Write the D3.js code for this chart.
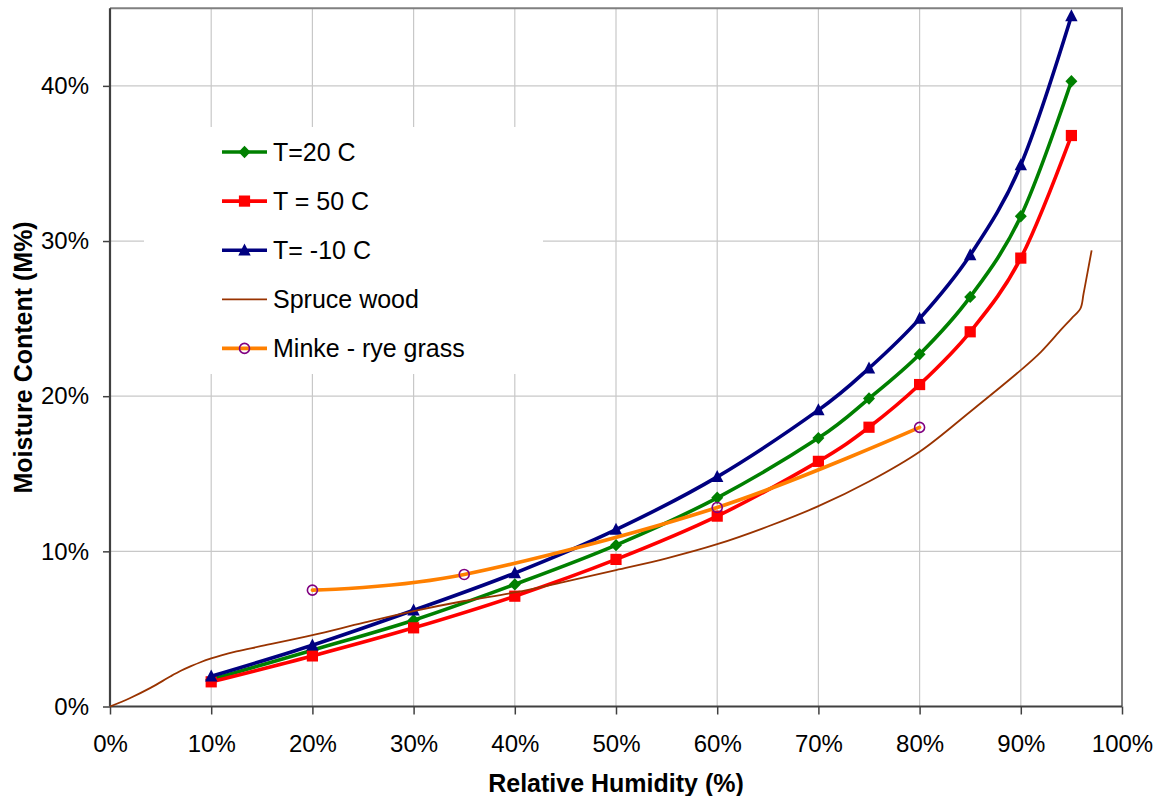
<!DOCTYPE html>
<html>
<head>
<meta charset="utf-8">
<script src="https://cdn.jsdelivr.net/npm/d3@7"></script>
<style>
  html, body { margin: 0; padding: 0; background: #fff; }
  svg { display: block; }
  text { font-family: Arial, "Liberation Sans", sans-serif; fill: #000; }
</style>
</head>
<body>
<svg id="chart" width="1160" height="796"></svg>
<script>
// ---------- data ----------
const rhPoints = [10, 20, 30, 40, 50, 60, 70, 75, 80, 85, 90, 95];
const t20 = [1.74, 3.63, 5.56, 7.87, 10.4, 13.45, 17.3, 19.85, 22.7, 26.4, 31.6, 40.3];
const t50 = [1.59, 3.26, 5.07, 7.11, 9.48, 12.27, 15.8, 18.0, 20.75, 24.15, 28.9, 36.8];
const tMinus10 = [1.95, 3.95, 6.2, 8.6, 11.4, 14.8, 19.1, 21.8, 25.0, 29.1, 34.9, 44.5];

const spruceRH = [0, 2, 4, 6, 7, 8, 9, 10, 11, 12.5, 15, 20, 25, 30, 35, 40, 45, 50, 55, 60, 65, 70, 75, 80, 85, 90, 92, 94, 95, 95.9, 96.2, 96.6, 97];
const spruceMC = [0, 0.55, 1.2, 1.95, 2.3, 2.6, 2.87, 3.1, 3.3, 3.55, 3.9, 4.6, 5.39, 6.15, 6.8, 7.35, 8.05, 8.79, 9.55, 10.46, 11.6, 12.91, 14.5, 16.42, 19.0, 21.68, 22.86, 24.3, 25.0, 25.66, 26.6, 28.0, 29.4];

const minkeRH = [20, 35, 60, 80];
const minkeMC = [7.5, 8.51, 12.83, 17.99];

const xTicks = [0, 10, 20, 30, 40, 50, 60, 70, 80, 90, 100];
const yTicks = [0, 10, 20, 30, 40];
const legendLabels = ["T=20 C", "T = 50 C", "T= -10 C", "Spruce wood", "Minke - rye grass"];

// ---------- layout ----------
const svg = d3.select("#chart");
const L = 110, R = 1122, T = 8.3, B = 706.5;
const x = d3.scaleLinear().domain([0, 100]).range([L, R]);
const y = d3.scaleLinear().domain([0, 45]).range([B, T]);

svg.append("rect").attr("width", 1160).attr("height", 796).attr("fill", "#fff");

// gridlines
const grid = svg.append("g");
grid.selectAll("line.v").data(xTicks.filter(d => d > 0 && d < 100)).join("line")
  .attr("x1", d => x(d)).attr("x2", d => x(d)).attr("y1", T).attr("y2", B)
  .attr("stroke", "#c8c8c8").attr("stroke-width", 1.2);
grid.selectAll("line.h").data(yTicks.filter(d => d > 0)).join("line")
  .attr("x1", L).attr("x2", R).attr("y1", d => y(d)).attr("y2", d => y(d))
  .attr("stroke", "#c8c8c8").attr("stroke-width", 1.2);

// plot border (top/right)
svg.append("path")
  .attr("d", `M${L},${T}H${R}V${B}`)
  .attr("fill", "none").attr("stroke", "#808080").attr("stroke-width", 2);

// axes
const fmt = d => d + "%";
const yAxis = svg.append("g").attr("transform", `translate(${L},0)`)
  .call(d3.axisLeft(y).tickValues(yTicks).tickFormat(fmt).tickSize(7).tickPadding(14));
const xAxis = svg.append("g").attr("transform", `translate(0,${B})`)
  .call(d3.axisBottom(x).tickValues(xTicks).tickFormat(fmt).tickSize(8).tickPadding(20));
[xAxis, yAxis].forEach(g => {
  g.select(".domain").attr("stroke", "#404040").attr("stroke-width", 2.2);
  g.selectAll(".tick line").attr("stroke", "#404040").attr("stroke-width", 1.5);
  g.selectAll(".tick text").attr("font-size", 24)
    .attr("font-family", 'Arial, "Liberation Sans", sans-serif').attr("fill", "#000");
});
yAxis.select(".domain").attr("d", `M0,${B}V${T}`);
xAxis.select(".domain").attr("d", `M${L},0H${R}`);

// axis titles
svg.append("text").attr("x", (L + R) / 2).attr("y", 791.5)
  .attr("text-anchor", "middle").attr("font-size", 25).attr("font-weight", "bold")
  .text("Relative Humidity (%)");
svg.append("text").attr("transform", `translate(32,${(T + B) / 2}) rotate(-90)`)
  .attr("text-anchor", "middle").attr("font-size", 25).attr("font-weight", "bold")
  .text("Moisture Content (M%)");

// ---------- series ----------
const smooth = d3.line().x(d => x(d[0])).y(d => y(d[1])).curve(d3.curveCardinal.tension(0));
const spruceLine = d3.line().x(d => x(d[0])).y(d => y(d[1])).curve(d3.curveCatmullRom.alpha(0.5));

const diamond = "M0,-6.2L6,0L0,6.2L-6,0Z";
const square = "M-5.6,-5.6H5.6V5.6H-5.6Z";
const triangle = "M0,-6.8L6.2,5.2H-6.2Z";

const series = [
  { vals: t20, color: "#008000", marker: diamond },
  { vals: t50, color: "#FF0000", marker: square },
  { vals: tMinus10, color: "#000080", marker: triangle }
];

const plot = svg.append("g");
series.forEach(s => {
  const pts = rhPoints.map((r, i) => [r, s.vals[i]]);
  plot.append("path").attr("d", smooth(pts)).attr("fill", "none")
    .attr("stroke", s.color).attr("stroke-width", 3.6).attr("stroke-linejoin", "round");
  plot.selectAll(null).data(pts).join("path")
    .attr("d", s.marker).attr("fill", s.color)
    .attr("transform", d => `translate(${x(d[0])},${y(d[1])})`);
});

// spruce wood
const sprucePts = spruceRH.map((r, i) => [r, spruceMC[i]]);
plot.append("path").attr("d", spruceLine(sprucePts)).attr("fill", "none")
  .attr("stroke", "#993300").attr("stroke-width", 1.8);

// minke
const minkePts = minkeRH.map((r, i) => [r, minkeMC[i]]);
plot.append("path").attr("d", smooth(minkePts)).attr("fill", "none")
  .attr("stroke", "#FF8000").attr("stroke-width", 3.6).attr("stroke-linecap", "round");
plot.selectAll(null).data(minkePts).join("circle")
  .attr("cx", d => x(d[0])).attr("cy", d => y(d[1])).attr("r", 5)
  .attr("fill", "none").attr("stroke", "#800080").attr("stroke-width", 1.6);

// ---------- legend ----------
const leg = svg.append("g");
leg.append("rect").attr("x", 144).attr("y", 127).attr("width", 399).attr("height", 247).attr("fill", "#fff");
const legItems = [
  { color: "#008000", w: 3.6, marker: diamond },
  { color: "#FF0000", w: 3.6, marker: square },
  { color: "#000080", w: 3.6, marker: triangle },
  { color: "#993300", w: 1.8, marker: null },
  { color: "#FF8000", w: 3.6, marker: "circle" }
];
legItems.forEach((it, i) => {
  const cy = 152 + i * 49.1;
  leg.append("line").attr("x1", 222).attr("x2", 267).attr("y1", cy).attr("y2", cy)
    .attr("stroke", it.color).attr("stroke-width", it.w);
  if (it.marker === "circle") {
    leg.append("circle").attr("cx", 244.5).attr("cy", cy).attr("r", 5)
      .attr("fill", "none").attr("stroke", "#800080").attr("stroke-width", 1.6);
  } else if (it.marker) {
    leg.append("path").attr("d", it.marker).attr("fill", it.color)
      .attr("transform", `translate(244.5,${cy})`);
  }
  leg.append("text").attr("x", 273).attr("y", cy + 9).attr("font-size", 25).text(legendLabels[i]);
});
</script>
</body>
</html>
